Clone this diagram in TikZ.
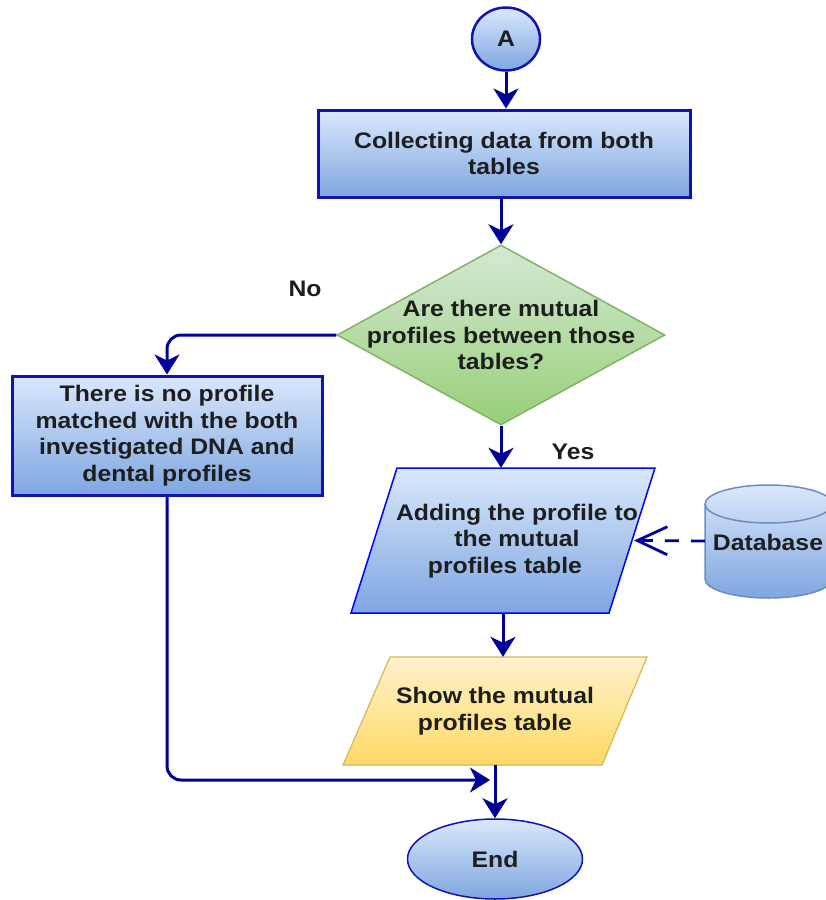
\documentclass[tikz,border=0pt]{standalone}
\usepackage{fontspec}
\setmainfont{Liberation Sans}[FakeStretch=1.1]
\usetikzlibrary{shapes.geometric,arrows.meta}
\definecolor{navy}{HTML}{000099}
\definecolor{boxline}{HTML}{1212B0}
\definecolor{blueTop}{HTML}{DAE8FC}
\definecolor{blueBot}{HTML}{7EA6E0}
\definecolor{greenTop}{HTML}{D5E8D4}
\definecolor{greenBot}{HTML}{97D077}
\definecolor{greenLine}{HTML}{82B366}
\definecolor{yelTop}{HTML}{FFF2CC}
\definecolor{yelBot}{HTML}{FFD966}
\definecolor{yelLine}{HTML}{D6B656}
\definecolor{dbLine}{HTML}{6C8EBF}
\definecolor{txt}{HTML}{1E1E1E}
\begin{document}
\begin{tikzpicture}[x=1pt,y=-1pt,
  font=\fontsize{22.5}{26.5}\selectfont\bfseries,
  every node/.style={text=txt},
  bluegrad/.style={top color=blueTop,bottom color=blueBot},
  procbox/.style={rectangle,bluegrad,draw=boxline,line width=3pt,inner sep=0pt},
  txtnode/.style={align=center,inner sep=0pt},
  anchorbox/.style={rectangle,inner sep=0pt},
  flow/.style={draw=navy,line width=3pt,-{Stealth[length=20pt,width=25pt,inset=6pt]}},
  dbarrow/.style={draw=navy,line width=2.8pt,dash pattern=on 14pt off 12pt,-{Straight Barb[length=30pt,width=28pt]}}
]
\useasboundingbox (0,0) rectangle (826,900);

% start connector
\node (A) [ellipse,bluegrad,draw=boxline,line width=2.5pt,minimum width=68pt,minimum height=63pt,inner sep=0pt] at (506,39) {A};

% process 1
\node (p1) [procbox,minimum width=372pt,minimum height=87pt,align=center] at (504,153.5) {Collecting data from both\\tables};

% decision
\node (dia) [diamond,top color=greenTop,bottom color=greenBot,draw=greenLine,line width=1.5pt,minimum width=328pt,minimum height=180pt,inner sep=0pt] at (501,335) {};
\node (diaT) [txtnode] at (dia.center) {Are there mutual\\profiles between those\\tables?};

% no branch box
\node (p2) [procbox,minimum width=310pt,minimum height=119pt,align=center] at (167,435.5) {There is no profile\\matched with the both\\investigated DNA and\\dental profiles};

% parallelogram 1
\path[bluegrad,draw=blue,line width=1.5pt] (397,468) -- (655,468) -- (609,613) -- (351,613) -- cycle;
\node (io1) [anchorbox,minimum width=304pt,minimum height=145pt] at (503,540.5) {};
\coordinate (io1r) at (634,540.5);
\node (io1T) [txtnode] at (517,541) {Adding the profile to\\the mutual\hspace*{34pt}\\profiles table\hspace*{24pt}};

% parallelogram 2
\path[top color=yelTop,bottom color=yelBot,draw=yelLine,line width=1.2pt] (390,657) -- (647,657) -- (602,765) -- (343,765) -- cycle;
\node (io2) [anchorbox,minimum width=304pt,minimum height=108pt] at (495,711) {};
\node (io2T) [txtnode] at (io2.center) {Show the mutual\\profiles table};

% database cylinder
\path[bluegrad,draw=dbLine,line width=1.5pt]
  (705,504) -- (705,579) arc[start angle=180,end angle=360,x radius=63.5pt,y radius=19pt]
  -- (832,504) arc[start angle=0,end angle=180,x radius=63.5pt,y radius=19pt] -- cycle;
\draw[dbLine,line width=1.5pt] (705,504) arc[start angle=180,end angle=360,x radius=63.5pt,y radius=19pt];
\node (db) [anchorbox,minimum width=127pt,minimum height=113pt] at (768.5,541) {};
\node (dbT) [txtnode] at (768,542) {Database};

% end
\node (End) [ellipse,bluegrad,draw=boxline,line width=1.5pt,minimum width=175pt,minimum height=80pt,inner sep=0pt] at (495,859) {End};

% labels
\node (no) [txtnode] at (305,289) {No};
\node (yes) [txtnode] at (573,452) {Yes};

% connectors
\coordinate (jn) at (490,780);
\draw[flow] (A.south) -- (A.south |- p1.north);
\draw[flow] (p1.south -| dia.north) -- (dia.north);
\draw[flow,rounded corners=14pt] (dia.west) -| (p2.north);
\draw[flow] (dia.south) -- (dia.south |- io1.north);
\draw[flow] (io1.south) -- (io1.south |- io2.north);
\draw[flow,rounded corners=14pt] (p2.south) |- (jn);
\draw[flow] (io2.south) -- (End.north);
\draw[dbarrow] (db.west) -- (io1r);
\end{tikzpicture}
\end{document}
